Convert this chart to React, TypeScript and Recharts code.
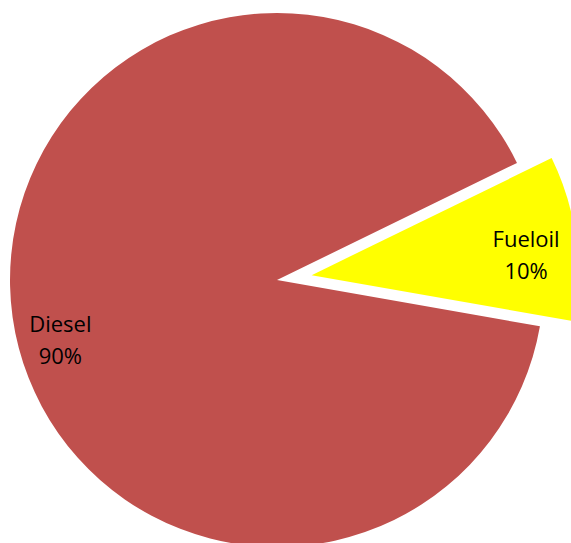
import { PieChart, Pie, Cell } from 'recharts';

const fuels = ['Diesel', 'Fueloil'];
const shares = [90, 10];
const colors = ['#C0504D', '#FFFF00'];

const data = fuels.map((name, i) => ({ name, value: shares[i] }));

const RAD = Math.PI / 180;

const renderLabel = (only: string) => (props: any) => {
  const { cx, cy, midAngle, outerRadius, name, percent } = props;
  if (name !== only) return null;
  // Excel puts Diesel's label a bit lower than the slice middle
  const angle = name === 'Diesel' ? midAngle + 7 : midAngle - 2;
  const r = name === 'Diesel' ? outerRadius * 0.84 : outerRadius * 0.8;
  const x = cx + r * Math.cos(-angle * RAD) + (name === 'Fueloil' ? 2 : 0);
  const y = cy + r * Math.sin(-angle * RAD);
  return (
    <text x={x} y={y} textAnchor="middle" fill="#000" fontSize={22} fontFamily="'Open Sans', sans-serif">
      <tspan x={x} dy={-6}>{name}</tspan>
      <tspan x={x} dy={32}>{`${Math.round(percent * 100)}%`}</tspan>
    </text>
  );
};

const App = () => {
  const cx = 277;
  const cy = 280;
  const R = 267;
  const explode = 35;
  const mid = 8;
  return (
    <>
      <style>{'body { margin: 0; }'}</style>
      <PieChart width={571} height={543} margin={{ top: 0, right: 0, bottom: 0, left: 0 }}>
        <Pie
          data={data}
          dataKey="value"
          cx={cx}
          cy={cy}
          outerRadius={R}
          startAngle={26}
          endAngle={386}
          stroke="none"
          label={renderLabel('Diesel')}
          labelLine={false}
          isAnimationActive={false}
        >
          {data.map((d, i) => (
            <Cell key={d.name} fill={i === 0 ? colors[i] : 'transparent'} />
          ))}
        </Pie>
        <Pie
          data={data}
          dataKey="value"
          cx={cx + explode * Math.cos(mid * RAD)}
          cy={cy - explode * Math.sin(mid * RAD)}
          outerRadius={R}
          startAngle={26}
          endAngle={386}
          stroke="none"
          label={renderLabel('Fueloil')}
          labelLine={false}
          isAnimationActive={false}
        >
          {data.map((d, i) => (
            <Cell key={d.name} fill={i === 1 ? colors[i] : 'transparent'} />
          ))}
        </Pie>
      </PieChart>
    </>
  );
};

export default App;
